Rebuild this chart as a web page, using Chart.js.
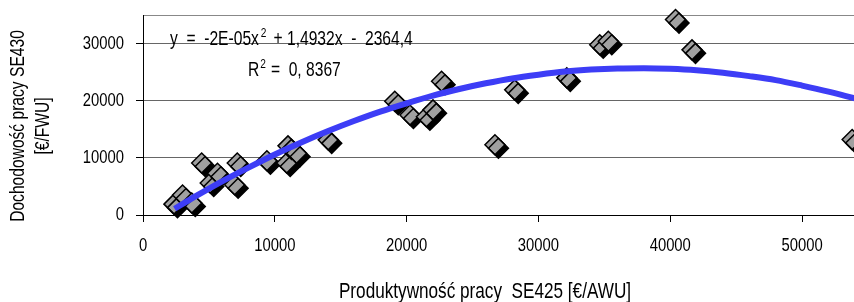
<!DOCTYPE html>
<html>
<head>
<meta charset="utf-8">
<script src="https://cdn.jsdelivr.net/npm/chart.js@4.4.1/dist/chart.umd.min.js"></script>
<style>
  html, body { margin: 0; padding: 0; background: #fff; }
</style>
</head>
<body>
<canvas id="scatter_Chart" width="854" height="302"></canvas>
<script>
// wartości
var produktywnosc = [2350, 3000, 3700, 4450, 5100, 5650, 6950, 7150, 9400, 10900, 11000, 11650, 14050,
                     19100, 20250, 21500, 22000, 22650, 26700, 28200, 32150, 34650, 35300, 40400, 41650, 53800];
var dochodowosc   = [1900, 3500, 2100, 9100, 5600, 7300, 5300, 9100, 9500, 9100, 12100, 10800, 13150,
                     19900, 17500, 17200, 18400, 23400, 12300, 21900, 24000, 29800, 30400, 34200, 28900, 13200];

// linia trendu
var trendX = [2400, 4000, 6000, 8000, 10000, 12000, 14000, 16000, 18000, 20000, 22000, 24000, 26000, 28000,
              30000, 32000, 34000, 36000, 38000, 40000, 42000, 44000, 46000, 48000, 50000, 52000, 54000];
var trendY = [1100, 3300, 5900, 8300, 10600, 12700, 14650, 16450, 18100, 19550, 20900, 22050, 23050, 23900,
              24550, 25100, 25450, 25650, 25700, 25600, 25350, 24900, 24300, 23600, 22650, 21600, 20400];

var xTicks = [0, 10000, 20000, 30000, 40000, 50000];
var yTicks = [0, 10000, 20000, 30000, 35000];

var fontName = "'Liberation Sans', Arial, sans-serif";

// brak czcionki "narrow" -> ściskamy tekst w poziomie
var squeeze = 0.78;
var origFill = CanvasRenderingContext2D.prototype.fillText;
CanvasRenderingContext2D.prototype.fillText = function (t, x, y) {
  this.save();
  this.translate(x, y);
  this.scale(squeeze, 1);
  origFill.call(this, t, 0, 0);
  this.restore();
};

// cień pod rombami
const shadowPlugin = {
  id: 'cien',
  beforeDatasetDraw(chart, args) {
    if (args.index !== 0) return;
    const ctx = chart.ctx;
    ctx.save();
    ctx.shadowColor = '#000';
    ctx.shadowOffsetX = 3.5;
    ctx.shadowOffsetY = 3.5;
    ctx.shadowBlur = 0;
  },
  afterDatasetDraw(chart, args) {
    if (args.index !== 0) return;
    chart.ctx.restore();
  }
};

// równanie trendu + tytuły osi
const textPlugin = {
  id: 'teksty',
  afterDraw(chart) {
    const ctx = chart.ctx;
    const area = chart.chartArea;
    const w = t => ctx.measureText(t).width * squeeze;
    ctx.save();
    ctx.fillStyle = '#000';
    ctx.textBaseline = 'alphabetic';
    ctx.textAlign = 'left';

    let x = area.left + 27, y = area.top + 30;
    ctx.font = '20px ' + fontName;
    ctx.fillText('y  =  -2E-05x', x, y);
    x += w('y  =  -2E-05x') + 2;
    ctx.font = '13px ' + fontName;
    ctx.fillText('2', x, y - 8);
    x += w('2') + 7;
    ctx.font = '20px ' + fontName;
    ctx.fillText('+ 1,4932x  -  2364,4', x, y);

    x = area.left + 105; y = area.top + 61;
    ctx.fillText('R', x, y);
    x += w('R') + 1;
    ctx.font = '13px ' + fontName;
    ctx.fillText('2', x, y - 8);
    x += w('2') + 5;
    ctx.font = '20px ' + fontName;
    ctx.fillText('=  0, 8367', x, y);

    // tytuł osi X
    ctx.textAlign = 'center';
    ctx.textBaseline = 'middle';
    ctx.font = '22px ' + fontName;
    ctx.fillText('Produktywność pracy  SE425 [€/AWU]', 485, 292);

    // tytuł osi Y (dwie linie, obrócony)
    ctx.translate(0, 126);
    ctx.rotate(-Math.PI / 2);
    ctx.font = '20px ' + fontName;
    ctx.fillText('Dochodowość pracy SE430', 0, 18);
    ctx.fillText('[€/FWU]', 0, 43);
    ctx.restore();
  }
};

const ctx_sc = document.getElementById('scatter_Chart').getContext('2d');
var myChartScatter = new Chart(ctx_sc, {
  type: 'scatter',
  data: {
    datasets: [{
      label: 'SE430',
      data: produktywnosc.map((v, i) => ({ x: v, y: dochodowosc[i] })),
      pointStyle: 'rectRot',
      pointRadius: 10,
      pointHoverRadius: 10,
      backgroundColor: '#a0a0a0',
      borderColor: '#000',
      borderWidth: 1.5,
      clip: false,
      order: 2
    }, {
      label: 'trend',
      data: trendX.map((v, i) => ({ x: v, y: trendY[i] })),
      showLine: true,
      pointRadius: 0,
      borderColor: '#3d3df6',
      borderWidth: 6,
      cubicInterpolationMode: 'monotone',
      order: 1
    }]
  },
  options: {
    responsive: false,
    animation: false,
    layout: { autoPadding: false, padding: { top: 15, right: 0, left: 0, bottom: 0 } },
    plugins: {
      legend: { display: false },
      tooltip: { enabled: false }
    },
    scales: {
      x: {
        type: 'linear',
        min: 0,
        max: 53940,
        afterBuildTicks: s => { s.ticks = xTicks.map(v => ({ value: v })); },
        afterFit: s => { s.height = 87; s.paddingRight = 0; s.paddingLeft = 0; },
        grid: { drawOnChartArea: false, drawTicks: true, tickLength: 7, tickColor: '#000' },
        border: { color: '#000', width: 1 },
        ticks: {
          color: '#000',
          font: { family: fontName, size: 19 },
          padding: 12,
          maxRotation: 0,
          autoSkip: false,
          callback: v => String(v)
        }
      },
      y: {
        min: 0,
        max: 35000,
        afterBuildTicks: s => { s.ticks = yTicks.map(v => ({ value: v })); },
        afterFit: s => { s.width = 143; s.paddingTop = 0; s.paddingBottom = 0; },
        grid: {
          color: c => c.tick && c.tick.value === 0 ? '#000' : (c.tick && c.tick.value === 35000 ? '#888' : '#666'),
          tickColor: c => c.tick && c.tick.value === 35000 ? 'rgba(0,0,0,0)' : '#000',
          tickLength: 7
        },
        border: { color: '#000', width: 1 },
        ticks: {
          color: '#000',
          font: { family: fontName, size: 19 },
          padding: 12,
          autoSkip: false,
          callback: v => v === 35000 ? '' : String(v)
        }
      }
    }
  },
  plugins: [shadowPlugin, textPlugin]
});
</script>
</body>
</html>
